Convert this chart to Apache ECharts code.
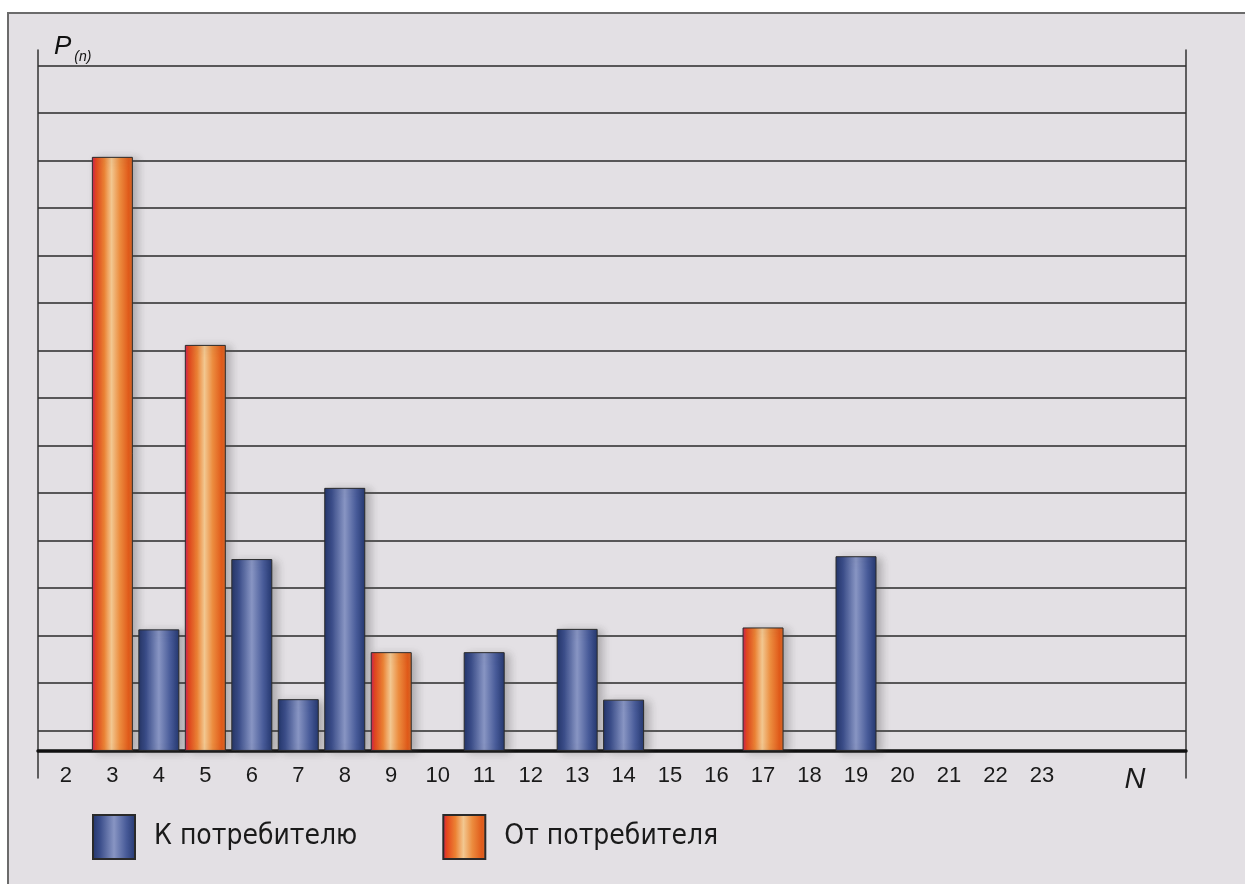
<!DOCTYPE html>
<html>
<head>
<meta charset="utf-8">
<script src="https://cdn.jsdelivr.net/npm/echarts@6/dist/echarts.min.js"></script>
<style>
  html, body { margin: 0; padding: 0; background: #ffffff; }
  #panel {
    position: absolute; left: 7px; top: 12px; width: 1238px; height: 872px;
    background: #e3e0e4;
    border-top: 2px solid #6b6b6b; border-left: 2px solid #6b6b6b;
  }
  #chart { position: absolute; left: 0; top: 0; width: 1245px; height: 884px; }
</style>
</head>
<body>
<div id="panel"></div>
<div id="chart"></div>
<script>
// Number of participants N shown on the horizontal axis
const nTicks = [2, 3, 4, 5, 6, 7, 8, 9, 10, 11, 12, 13, 14, 15, 16, 17, 18, 19, 20, 21, 22, 23];
const nAxisName = 'N';
const nAxisNameAt = 25;

// Series names
const seriesToConsumer = 'К потребителю';
const seriesFromConsumer = 'От потребителя';

// P(n) values, [N, P]
const toConsumer = [[4, 2.56], [6, 4.04], [7, 1.09], [8, 5.54], [11, 2.08], [13, 2.57], [14, 1.08], [19, 4.1]];
const fromConsumer = [[3, 12.51], [5, 8.55], [9, 2.08], [17, 2.6]];

const font = '"Liberation Sans", Arial, sans-serif';
const narrowFont = '"Liberation Sans Narrow", "DejaVu Sans Condensed", "Liberation Sans", sans-serif';

const blueFill = new echarts.graphic.LinearGradient(0, 0, 1, 0, [
  { offset: 0, color: '#22346a' },
  { offset: 0.18, color: '#3a4d8a' },
  { offset: 0.5, color: '#8895c3' },
  { offset: 0.78, color: '#485b99' },
  { offset: 1, color: '#24376f' }
]);
const orangeFill = new echarts.graphic.LinearGradient(0, 0, 1, 0, [
  { offset: 0, color: '#c81f62' },
  { offset: 0.1, color: '#e4461c' },
  { offset: 0.3, color: '#ec8234' },
  { offset: 0.48, color: '#f2c790' },
  { offset: 0.68, color: '#ec8c3e' },
  { offset: 0.9, color: '#e05a1a' },
  { offset: 1, color: '#d66a2a' }
]);

const barStyle = (fill) => ({
  color: fill,
  borderColor: '#2a2a2a',
  borderWidth: 1,
  shadowBlur: 8,
  shadowColor: 'rgba(70,70,70,0.35)',
  shadowOffsetX: 5,
  shadowOffsetY: 2
});

const chart = echarts.init(document.getElementById('chart'), null, { renderer: 'canvas' });

chart.setOption({
  backgroundColor: 'transparent',
  animation: false,
  grid: { left: 38, right: 59, top: 50, bottom: 106 },
  legend: {
    left: 87,
    top: 809,
    itemWidth: 42,
    itemHeight: 44,
    itemGap: 85,
    icon: 'rect',
    data: [seriesToConsumer, seriesFromConsumer],
    textStyle: {
      fontFamily: narrowFont,
      fontSize: 28,
      color: '#1a1a1a',
      padding: [0, 0, 0, 14]
    }
  },
  xAxis: {
    type: 'value',
    min: 1.4,
    max: 26.1,
    axisLine: { onZero: true, onZeroAxisIndex: 0, lineStyle: { color: '#111', width: 3.5 } },
    axisTick: { show: false },
    splitLine: { show: false },
    axisLabel: {
      customValues: nTicks.concat([nAxisNameAt]),
      margin: -13,
      color: '#1a1a1a',
      fontFamily: font,
      fontSize: 22,
      formatter: (v) => (v === nAxisNameAt ? '{n|' + nAxisName + '}' : String(v)),
      rich: {
        n: { fontFamily: font, fontStyle: 'italic', fontSize: 29, color: '#1a1a1a', padding: [0, 0, 18, 0] }
      }
    }
  },
  yAxis: [
    {
      // value scale of the bars; zero sits on the baseline
      type: 'value',
      position: 'left',
      min: -0.57,
      max: 14.76,
      axisLine: { show: true, lineStyle: { color: '#333', width: 1.5 } },
      axisTick: { show: false },
      axisLabel: { show: false },
      splitLine: { show: false },
      name: '{p|P}{s|(n)}',
      nameLocation: 'end',
      nameGap: -10,
      nameTextStyle: {
        align: 'left',
        verticalAlign: 'bottom',
        padding: [0, 0, 0, 16],
        rich: {
          p: { fontFamily: font, fontStyle: 'italic', fontSize: 26, color: '#111', lineHeight: 26, verticalAlign: 'top' },
          s: { fontFamily: font, fontStyle: 'italic', fontSize: 14, color: '#111', lineHeight: 16, padding: [16, 0, 0, 3], verticalAlign: 'top' }
        }
      }
    },
    {
      // horizontal rules and the right-hand frame line
      type: 'value',
      position: 'right',
      min: 0,
      max: 15.33,
      interval: 1,
      axisLine: { show: true, lineStyle: { color: '#333', width: 1.5 } },
      axisTick: { show: false },
      axisLabel: { show: false },
      splitLine: {
        show: true,
        showMinLine: false,
        showMaxLine: false,
        lineStyle: { color: '#2a2a2a', width: 1.7 }
      }
    }
  ],
  series: [
    {
      name: seriesToConsumer,
      type: 'bar',
      yAxisIndex: 0,
      barWidth: 41,
      barGap: '-100%',
      data: toConsumer,
      itemStyle: barStyle(blueFill)
    },
    {
      name: seriesFromConsumer,
      type: 'bar',
      yAxisIndex: 0,
      barWidth: 41,
      barGap: '-100%',
      data: fromConsumer,
      itemStyle: barStyle(orangeFill)
    }
  ]
});
</script>
</body>
</html>
